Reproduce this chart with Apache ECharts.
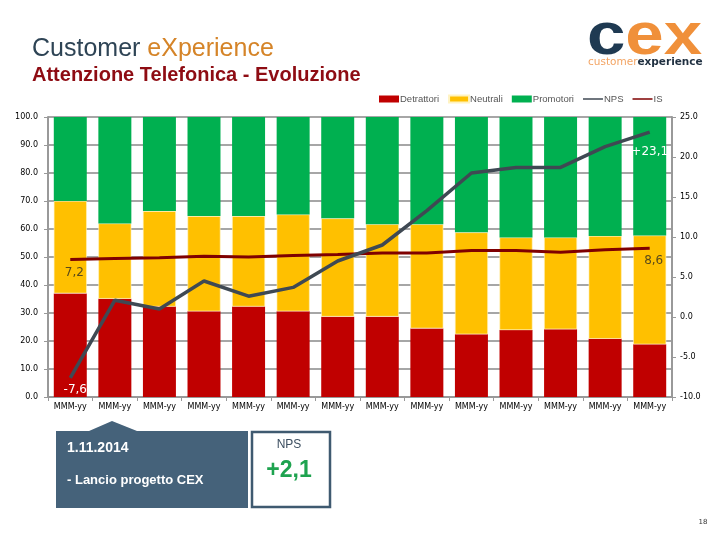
<!DOCTYPE html>
<html>
<head>
<meta charset="utf-8">
<script src="https://cdn.jsdelivr.net/npm/echarts@6/dist/echarts.min.js"></script>
<style>html,body{margin:0;padding:0;background:#fff;}#c{width:720px;height:540px;}</style>
</head>
<body>
<div id="c"></div>
<script>
var categories = ['MMM-yy','MMM-yy','MMM-yy','MMM-yy','MMM-yy','MMM-yy','MMM-yy','MMM-yy','MMM-yy','MMM-yy','MMM-yy','MMM-yy','MMM-yy','MMM-yy'];
var detrattori = [37.0,35.1,32.3,30.6,32.3,30.6,28.7,28.7,24.5,22.4,23.9,24.2,20.8,18.8];
var neutrali   = [33.0,26.9,34.1,34.0,32.3,34.6,35.1,33.0,37.2,36.4,33.1,32.8,36.7,38.9];
var promotori  = [30.0,38.0,33.6,35.4,35.4,34.8,36.2,38.3,38.3,41.2,43.0,43.0,42.5,42.3];
var nps = [-7.6,2.1,1.0,4.5,2.6,3.7,7.0,9.0,13.3,18.0,18.7,18.7,21.3,23.1];
var is  = [7.2,7.3,7.4,7.6,7.5,7.7,7.8,8.0,8.0,8.3,8.3,8.1,8.4,8.6];
var leftTicks = {min:0,max:100,interval:10};
var rightTicks = {min:-10,max:25,interval:5};

var chart = echarts.init(document.getElementById('c'));
var axisFont = {fontFamily:'DejaVu Sans', fontSize:8, color:'#000'};
function fmtComma(v, plus){ var s = Math.abs(v).toFixed(1).replace('.', ','); return (v<0?'-':(plus?'+':''))+s; }
var last = categories.length-1;
var lineIcon = 'path://M0,0H40V3H0Z';
chart.setOption({
  animation:false,
  backgroundColor:'#fff',
  grid:{left:48,right:48,top:117,bottom:143},
  legend:{
    left:374, top:89, itemWidth:20, itemHeight:7, itemGap:9,
    textStyle:{fontFamily:'Liberation Sans', fontSize:9.5, color:'#555', padding:[0,0,0,-4]},
    data:[{name:'Detrattori',icon:'rect'},{name:'Neutrali',icon:'rect'},{name:'Promotori',icon:'rect'},{name:'NPS',icon:lineIcon},{name:'IS',icon:lineIcon}]
  },
  xAxis:{
    type:'category', data:categories, boundaryGap:true, z:0,
    axisLine:{lineStyle:{color:'#999',width:2}},
    axisTick:{show:true,lineStyle:{color:'#999',width:1},length:4},
    axisLabel:Object.assign({margin:6},axisFont)
  },
  yAxis:[{
    type:'value', min:leftTicks.min, max:leftTicks.max, interval:leftTicks.interval, z:0,
    axisLine:{show:true,lineStyle:{color:'#999',width:2}},
    axisTick:{show:true,lineStyle:{color:'#999'},length:4},
    splitLine:{show:true,lineStyle:{color:'#a6a6a6',width:2}},
    axisLabel:Object.assign({margin:10,formatter:function(v){return v.toFixed(1);}},axisFont)
  },{
    type:'value', min:rightTicks.min, max:rightTicks.max, interval:rightTicks.interval, z:0,
    axisLine:{show:true,lineStyle:{color:'#999',width:2}},
    axisTick:{show:true,lineStyle:{color:'#999'},length:4},
    splitLine:{show:false},
    axisLabel:Object.assign({margin:8,formatter:function(v){return v.toFixed(1);}},axisFont)
  }],
  series:[
    {name:'Detrattori',type:'bar',stack:'s',data:detrattori,barWidth:'74%',z:3,itemStyle:{color:'#c00000'}},
    {name:'Neutrali',type:'bar',stack:'s',data:neutrali,z:3,itemStyle:{color:'#ffc000',borderColor:'#fff3c0',borderWidth:0.6}},
    {name:'Promotori',type:'bar',stack:'s',data:promotori,z:3,itemStyle:{color:'#00b050'}},
    {name:'IS',type:'line',yAxisIndex:1,data:is,symbol:'circle',symbolSize:0.1,showSymbol:true,z:5,
      lineStyle:{color:'#7f0000',width:3},itemStyle:{color:'#7f0000'},
      label:{show:true,position:'bottom',distance:4,offset:[4,3],fontFamily:'DejaVu Sans',fontSize:12,color:'#5a4a1a',
        formatter:function(p){return (p.dataIndex===0||p.dataIndex===last)?fmtComma(p.value,false):'';}}},
    {name:'NPS',type:'line',yAxisIndex:1,data:nps,symbol:'circle',symbolSize:0.1,showSymbol:true,z:6,
      lineStyle:{color:'#3f4953',width:3.5},itemStyle:{color:'#3f4953'},
      label:{show:true,position:'bottom',distance:6,fontFamily:'DejaVu Sans',fontSize:12,color:'#ffffff',
        formatter:function(p){
          if(p.dataIndex===0) return '{a|'+fmtComma(p.value,true)+'}';
          if(p.dataIndex===last) return '{b|'+fmtComma(p.value,true)+'}';
          return '';},
        rich:{a:{fontFamily:'DejaVu Sans',fontSize:12,color:'#fff',padding:[0,0,0,10]},
              b:{fontFamily:'DejaVu Sans',fontSize:12,color:'#fff',padding:[8,0,0,0]}}}}
  ],
  graphic:[
    {type:'text',left:32,top:37,style:{text:'{a|Customer }{b|eXperience}',
      rich:{a:{fontFamily:'Liberation Sans',fontSize:25,fill:'#2e4455'},b:{fontFamily:'Liberation Sans',fontSize:25,fill:'#d58428'}}}},
    {type:'text',left:32,top:65,style:{text:'Attenzione Telefonica - Evoluzione',fontFamily:'Liberation Sans',fontSize:20,fontWeight:'bold',fill:'#8e0c13'}},
    {type:'text',left:587,top:7,scaleX:1.15,originX:587,style:{text:'{c|c}{e|ex}',
      rich:{c:{fontFamily:'Liberation Sans',fontWeight:'bold',fontSize:60,fill:'#1f3a52'},e:{fontFamily:'Liberation Sans',fontWeight:'bold',fontSize:60,fill:'#f0903a'}}}},
    {type:'text',left:588,top:57,style:{text:'{a|customer}{b|experience}',
      rich:{a:{fontFamily:'DejaVu Sans',fontSize:10.5,fill:'#f3a463'},b:{fontFamily:'DejaVu Sans',fontSize:10.5,fontWeight:'bold',fill:'#1f2f40'}}}},
    {type:'polygon',shape:{points:[[56,431],[89,431],[112,421],[137,431],[248,431],[248,508],[56,508]]},style:{fill:'#45627a'}},
    {type:'text',left:67,top:441,style:{text:'1.11.2014',fontFamily:'Liberation Sans',fontSize:14,fontWeight:'bold',fill:'#fff'}},
    {type:'text',left:67,top:474,style:{text:'- Lancio progetto CEX',fontFamily:'Liberation Sans',fontSize:13,fontWeight:'bold',fill:'#fff'}},
    {type:'rect',shape:{x:252,y:432,width:78,height:75},style:{fill:'#fff',stroke:'#3f5a70',lineWidth:2.5}},
    {type:'text',x:289,y:445,style:{text:'NPS',fontFamily:'Liberation Sans',fontSize:12,fill:'#3c4e60',textAlign:'center',textVerticalAlign:'middle'}},
    {type:'text',x:289,y:471,style:{text:'+2,1',fontFamily:'Liberation Sans',fontSize:23,fontWeight:'bold',fill:'#1ea34f',textAlign:'center',textVerticalAlign:'middle'}},
    {type:'text',x:703,y:522,style:{text:'18',fontFamily:'DejaVu Sans',fontSize:7,fill:'#333',textAlign:'center',textVerticalAlign:'middle'}}
  ]
});
</script>
</body>
</html>
